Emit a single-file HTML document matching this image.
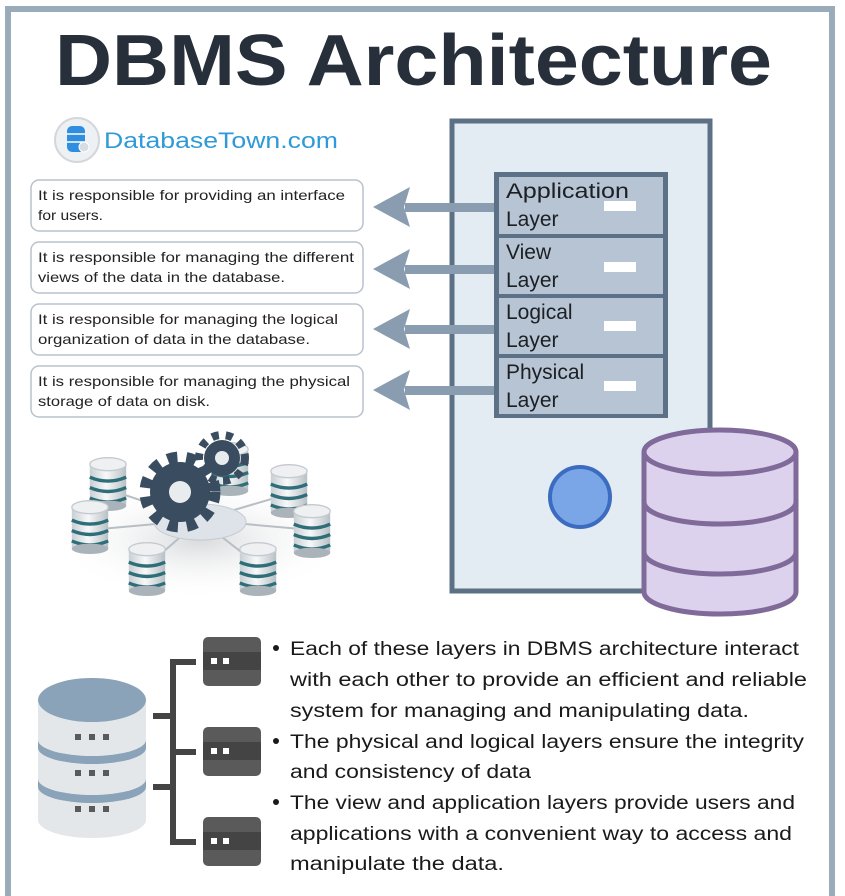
<!DOCTYPE html>
<html><head><meta charset="utf-8"><style>
html,body{margin:0;padding:0;background:#fff;}
svg{display:block;}
text{font-family:"Liberation Sans","DejaVu Sans",sans-serif;}
</style></head><body>
<svg width="845" height="896" viewBox="0 0 845 896" xmlns="http://www.w3.org/2000/svg">
<defs>
<linearGradient id="cyl" x1="0" x2="1">
<stop offset="0" stop-color="#c9cfd3"/><stop offset="0.45" stop-color="#f7f8f9"/><stop offset="1" stop-color="#b8c0c5"/>
</linearGradient>
<radialGradient id="shadow" cx="0.5" cy="0.5" r="0.5">
<stop offset="0" stop-color="#d8dadc"/><stop offset="1" stop-color="#fff" stop-opacity="0"/>
</radialGradient>
<g id="mc">
<g transform="scale(1.3)">
<rect x="-14" y="-16" width="28" height="32" fill="url(#cyl)"/>
<path d="M-14 -6 q14 6 28 0 M-14 2 q14 6 28 0 M-14 10 q14 6 28 0" stroke="#2e6e78" stroke-width="2.6" fill="none"/>
<ellipse cx="0" cy="16" rx="14" ry="4" fill="#aab3b9"/>
<ellipse cx="0" cy="-16" rx="14" ry="5" fill="#eef0f2" stroke="#c4cacf"/>
</g>
</g>
</defs>
<rect width="845" height="896" fill="#fff"/>
<rect x="8" y="9" width="824" height="900" fill="none" stroke="#9aabb9" stroke-width="6"/>
<text x="55" y="85" font-size="72" font-weight="bold" fill="#272f3a" textLength="717" lengthAdjust="spacingAndGlyphs">DBMS Architecture</text>
<circle cx="77" cy="140" r="22" fill="#eef1f4" stroke="#d2d7dc" stroke-width="2"/>
<rect x="67" y="126" width="18" height="26" rx="5" fill="#2f8ee0"/>
<path d="M67 134 h18 M67 142 h18" stroke="#fff" stroke-width="1.5"/>
<circle cx="84" cy="147" r="5" fill="#d8dde2" stroke="#fff"/>
<text x="104" y="148" font-size="22" fill="#2f9ad8" textLength="234" lengthAdjust="spacingAndGlyphs">DatabaseTown.com</text>
<g fill="#fff" stroke="#b9c2cc" stroke-width="1.5">
<rect x="31" y="180" width="332" height="51" rx="8"/>
<rect x="31" y="242" width="332" height="51" rx="8"/>
<rect x="31" y="304" width="332" height="51" rx="8"/>
<rect x="31" y="366" width="332" height="51" rx="8"/>
</g>
<g font-size="14" fill="#222" lengthAdjust="spacingAndGlyphs">
<text x="38" y="200" textLength="307" lengthAdjust="spacingAndGlyphs">It is responsible for providing an interface</text>
<text x="38" y="220" textLength="65" lengthAdjust="spacingAndGlyphs">for users.</text>
<text x="38" y="262" textLength="316" lengthAdjust="spacingAndGlyphs">It is responsible for managing the different</text>
<text x="38" y="282" textLength="247" lengthAdjust="spacingAndGlyphs">views of the data in the database.</text>
<text x="38" y="324" textLength="300" lengthAdjust="spacingAndGlyphs">It is responsible for managing the logical</text>
<text x="38" y="344" textLength="272" lengthAdjust="spacingAndGlyphs">organization of data in the database.</text>
<text x="38" y="386" textLength="312" lengthAdjust="spacingAndGlyphs">It is responsible for managing the physical</text>
<text x="38" y="406" textLength="172" lengthAdjust="spacingAndGlyphs">storage of data on disk.</text>
</g>
<rect x="452" y="121" width="258" height="470" fill="#e3ecf3" stroke="#5d7186" stroke-width="5"/>
<g fill="#8a9db0">
<rect x="405" y="203" width="92" height="9"/><polygon points="373,207 410,187 404,207 410,227"/>
<rect x="405" y="265" width="92" height="9"/><polygon points="373,269 410,249 404,269 410,289"/>
<rect x="405" y="325" width="92" height="9"/><polygon points="373,329 410,309 404,329 410,349"/>
<rect x="405" y="386" width="92" height="9"/><polygon points="373,390 410,370 404,390 410,410"/>
</g>
<rect x="494" y="172" width="174" height="246" fill="#5d7186"/>
<g fill="#b6c4d3">
<rect x="499" y="177" width="164" height="57"/>
<rect x="499" y="238" width="164" height="56"/>
<rect x="499" y="298" width="164" height="56"/>
<rect x="499" y="358" width="164" height="56"/>
</g>
<g fill="#fff">
<rect x="604" y="201" width="32" height="10"/>
<rect x="604" y="262" width="32" height="10"/>
<rect x="604" y="321" width="32" height="10"/>
<rect x="604" y="381" width="32" height="10"/>
</g>
<g font-size="21" fill="#1c1f24">
<text x="506" y="198" textLength="123" lengthAdjust="spacingAndGlyphs">Application</text><text x="506" y="226">Layer</text>
<text x="506" y="259">View</text><text x="506" y="287">Layer</text>
<text x="506" y="319">Logical</text><text x="506" y="347">Layer</text>
<text x="506" y="379">Physical</text><text x="506" y="407">Layer</text>
</g>
<circle cx="580" cy="497" r="30" fill="#7aa6e8" stroke="#3c6cc0" stroke-width="4"/>
<g fill="#dcd2ee" stroke="#7f6a99" stroke-width="5">
<path d="M644 452 v140 a76 22 0 0 0 152 0 v-140"/>
<ellipse cx="720" cy="452" rx="76" ry="22"/>
<path d="M644 502 a76 22 0 0 0 152 0" fill="none"/>
<path d="M644 552 a76 22 0 0 0 152 0" fill="none"/>
</g>
<ellipse cx="200" cy="540" rx="150" ry="60" fill="url(#shadow)"/>
<g stroke="#b8bfc4" stroke-width="2">
<line x1="200" y1="520" x2="110" y2="490"/><line x1="200" y1="520" x2="90" y2="530"/>
<line x1="200" y1="520" x2="148" y2="565"/><line x1="200" y1="520" x2="285" y2="495"/>
<line x1="200" y1="520" x2="312" y2="530"/><line x1="200" y1="520" x2="258" y2="565"/>
</g>
<ellipse cx="200" cy="522" rx="46" ry="18" fill="#dde3e8" stroke="#c5ccd2"/>
<use href="#mc" x="108" y="485"/>
<use href="#mc" x="230" y="470"/>
<use href="#mc" x="289" y="492"/>
<use href="#mc" x="90" y="528"/>
<use href="#mc" x="312" y="532"/>
<use href="#mc" x="147" y="570"/>
<use href="#mc" x="258" y="570"/>
<g fill="#3a4d60">
<circle cx="180" cy="492" r="30"/>
<circle cx="180" cy="492" r="35" fill="none" stroke="#3a4d60" stroke-width="11" stroke-dasharray="10 9"/>
<circle cx="222" cy="458" r="18"/>
<circle cx="222" cy="458" r="23" fill="none" stroke="#3a4d60" stroke-width="8" stroke-dasharray="7 7"/>
</g>
<circle cx="180" cy="492" r="11" fill="#e8ecef"/>
<circle cx="222" cy="458" r="7" fill="#e8ecef"/>
<g>
<rect x="38" y="700" width="108" height="120" fill="#e4e7ea"/>
<ellipse cx="92" cy="820" rx="54" ry="18" fill="#e4e7ea"/>
<path d="M38 740 a54 16 0 0 0 108 0 v8 a54 16 0 0 1 -108 0z" fill="#8aa3b8"/>
<path d="M38 779 a54 16 0 0 0 108 0 v8 a54 16 0 0 1 -108 0z" fill="#8aa3b8"/>
<ellipse cx="92" cy="700" rx="54" ry="22" fill="#8aa3b8"/>
<g fill="#5a5a5a">
<rect x="75" y="734" width="6" height="6"/><rect x="89" y="734" width="6" height="6"/><rect x="103" y="734" width="6" height="6"/>
<rect x="75" y="770" width="6" height="6"/><rect x="89" y="770" width="6" height="6"/><rect x="103" y="770" width="6" height="6"/>
<rect x="75" y="806" width="6" height="6"/><rect x="89" y="806" width="6" height="6"/><rect x="103" y="806" width="6" height="6"/>
</g>
</g>
<g stroke="#444" stroke-width="6" fill="none">
<path d="M196 662 H173 V842 H196"/>
<path d="M153 716 H173 M153 787 H173 M173 752 H196"/>
</g>
<g>
<rect x="203" y="637" width="58" height="49" rx="5" fill="#5a5a5a"/><rect x="203" y="652" width="58" height="18" fill="#444"/>
<rect x="203" y="727" width="58" height="49" rx="5" fill="#5a5a5a"/><rect x="203" y="742" width="58" height="18" fill="#444"/>
<rect x="203" y="817" width="58" height="49" rx="5" fill="#5a5a5a"/><rect x="203" y="832" width="58" height="18" fill="#444"/>
<g fill="#fff">
<rect x="211" y="658" width="6" height="6"/><rect x="223" y="658" width="6" height="6"/>
<rect x="211" y="748" width="6" height="6"/><rect x="223" y="748" width="6" height="6"/>
<rect x="211" y="838" width="6" height="6"/><rect x="223" y="838" width="6" height="6"/>
</g>
</g>
<g font-size="19" fill="#1a1a1a">
<circle cx="276" cy="648" r="3" fill="#1a1a1a"/>
<circle cx="276" cy="741" r="3" fill="#1a1a1a"/>
<circle cx="276" cy="802" r="3" fill="#1a1a1a"/>
<text x="290" y="655" textLength="509" lengthAdjust="spacingAndGlyphs">Each of these layers in DBMS architecture interact</text>
<text x="290" y="686" textLength="517" lengthAdjust="spacingAndGlyphs">with each other to provide an efficient and reliable</text>
<text x="290" y="717" textLength="459" lengthAdjust="spacingAndGlyphs">system for managing and manipulating data.</text>
<text x="290" y="748" textLength="514" lengthAdjust="spacingAndGlyphs">The physical and logical layers ensure the integrity</text>
<text x="290" y="778" textLength="241" lengthAdjust="spacingAndGlyphs">and consistency of data</text>
<text x="290" y="809" textLength="505" lengthAdjust="spacingAndGlyphs">The view and application layers provide users and</text>
<text x="290" y="840" textLength="502" lengthAdjust="spacingAndGlyphs">applications with a convenient way to access and</text>
<text x="290" y="870" textLength="214" lengthAdjust="spacingAndGlyphs">manipulate the data.</text>
</g>
</svg>
</body></html>
